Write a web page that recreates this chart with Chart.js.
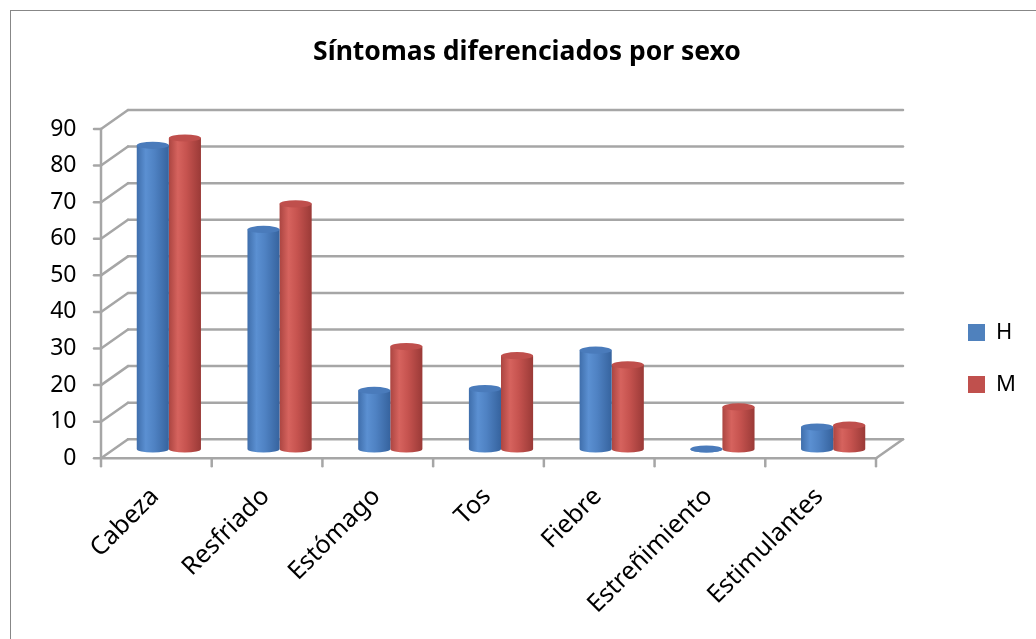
<!DOCTYPE html>
<html><head><meta charset="utf-8">
<script src="https://cdn.jsdelivr.net/npm/chart.js@4/dist/chart.umd.min.js"></script>
<style>html,body{margin:0;padding:0;background:#fff;overflow:hidden}#wrap{width:1036px;height:639px;position:relative}canvas{display:block}</style>
</head><body><div id="wrap"><canvas id="c" width="1036" height="639"></canvas></div>
<script>
// ---- data ----
const categories = ['Cabeza', 'Resfriado', 'Estómago', 'Tos', 'Fiebre', 'Estreñimiento', 'Estimulantes'];
const seriesNames = ['H', 'M'];
const valuesH = [83, 60, 16, 16.5, 27, 0, 6];
const valuesM = [85, 67, 28, 25.5, 23, 11.5, 6.5];
const yTickValues = [0, 10, 20, 30, 40, 50, 60, 70, 80, 90];
const chartTitle = 'Síntomas diferenciados por sexo';

// ---- styling / geometry ----
const BASE = ['#4F81BD', '#C0504D'];
const STOPS = [
  [[0, '#3f6eab'], [0.28, '#5b90d2'], [0.55, '#4f82c3'], [1, '#36639e']],
  [[0, '#ab4541'], [0.28, '#d6635e'], [0.55, '#c6534f'], [1, '#9a3a37']]
];
const TOPC = ['#4a7bbb', '#bf4f4c'];
const TARGET = { left: 113.5, right: 888.5, top: 119.7, bottom: 449 };
const FRONT = { dx: -12.5, dy: 9.3 };
const BACK = { dx: 14.5, dy: -9.7 };
const CAT_PCT = 0.58;
const GRID = '#a6a6a6';
const FONT = "'Noto Sans', sans-serif";
const TITLE_CENTER = 527;

let padL = 20, padR = 40, titlePadBottom = 50;

function cylFill(c) {
  const di = c.datasetIndex;
  if (c.type !== 'data') return BASE[di];
  const chart = c.chart, a = chart.chartArea, xs = chart.scales && chart.scales.x;
  if (!a || !xs) return BASE[di];
  const center = xs.getPixelForValue(c.dataIndex);
  const catW = (a.right - a.left) / categories.length;
  const bw = catW * CAT_PCT / 2;
  const left = center - catW * CAT_PCT / 2 + di * bw;
  const g = chart.ctx.createLinearGradient(left, 0, left + bw, 0);
  STOPS[di].forEach(s => g.addColorStop(s[0], s[1]));
  return g;
}

const framePlugin = {
  id: 'frame3d',
  beforeDraw(chart) {
    const ctx = chart.ctx;
    ctx.save();
    ctx.strokeStyle = '#878787';
    ctx.lineWidth = 1;
    ctx.strokeRect(10.5, 10.5, 1200, 800);
    ctx.restore();
  },
  beforeDatasetsDraw(chart) {
    const { ctx, chartArea: a, scales: { x, y } } = chart;
    const L = (x1, y1, x2, y2) => { ctx.beginPath(); ctx.moveTo(x1, y1); ctx.lineTo(x2, y2); ctx.stroke(); };
    ctx.save();
    ctx.strokeStyle = GRID;
    ctx.lineWidth = 2.5;
    ctx.lineCap = 'round';
    const y0 = y.getPixelForValue(0);
    const yMax = y.getPixelForValue(yTickValues[yTickValues.length - 1]);
    yTickValues.forEach(v => {
      const py = y.getPixelForValue(v);
      L(a.left + BACK.dx, py + BACK.dy, a.right + BACK.dx, py + BACK.dy);
      L(a.left + FRONT.dx, py + FRONT.dy, a.left + BACK.dx, py + BACK.dy);
      L(a.left + FRONT.dx - 7, py + FRONT.dy, a.left + FRONT.dx, py + FRONT.dy);
    });
    L(a.left + FRONT.dx, yMax + FRONT.dy, a.left + FRONT.dx, y0 + FRONT.dy);
    L(a.left + FRONT.dx, y0 + FRONT.dy, a.right + FRONT.dx, y0 + FRONT.dy);
    L(a.right + FRONT.dx, y0 + FRONT.dy, a.right + BACK.dx, y0 + BACK.dy);
    for (let i = 0; i <= categories.length; i++) {
      const px = x.getPixelForValue(i - 0.5) + FRONT.dx;
      L(px, y0 + FRONT.dy, px, y0 + FRONT.dy + 8);
    }
    ctx.restore();
  },
  afterDatasetsDraw(chart) {
    const ctx = chart.ctx;
    ctx.save();
    for (let di = chart.data.datasets.length - 1; di >= 0; di--) {
      const meta = chart.getDatasetMeta(di);
      meta.data.forEach(el => {
        const p = el.getProps(['x', 'y', 'base', 'width'], true);
        const rx = p.width / 2, ry = 3.6;
        const g = ctx.createLinearGradient(p.x - rx, 0, p.x + rx, 0);
        STOPS[di].forEach(s => g.addColorStop(s[0], s[1]));
        ctx.fillStyle = g;
        ctx.beginPath(); ctx.ellipse(p.x, p.base, rx, ry, 0, 0, Math.PI); ctx.fill();
        ctx.fillStyle = TOPC[di];
        ctx.beginPath(); ctx.ellipse(p.x, p.y, rx, ry, 0, 0, Math.PI * 2); ctx.fill();
      });
    }
    ctx.restore();
  },
  afterLayout(chart) {
    const lg = chart.legend;
    if (lg) {
      const w = lg.width, h = lg.height;
      lg.left = 938; lg.right = lg.left + w;
      lg.top = 291.5; lg.bottom = lg.top + h;
    }
    const tb = chart.titleBlock;
    if (tb) {
      const half = Math.min(TITLE_CENTER, 1036 - TITLE_CENTER);
      tb.left = TITLE_CENTER - half; tb.right = TITLE_CENTER + half;
    }
  }
};

const chart = new Chart(document.getElementById('c'), {
  type: 'bar',
  data: {
    labels: categories,
    datasets: [
      { label: seriesNames[0], data: valuesH, backgroundColor: cylFill, borderWidth: 0, categoryPercentage: CAT_PCT, barPercentage: 1 },
      { label: seriesNames[1], data: valuesM, backgroundColor: cylFill, borderWidth: 0, categoryPercentage: CAT_PCT, barPercentage: 1 }
    ]
  },
  options: {
    responsive: false,
    animation: false,
    devicePixelRatio: 1,
    layout: { padding: { left: padL, right: padR, top: 0, bottom: 0 } },
    plugins: {
      title: {
        display: true, text: chartTitle, color: '#000',
        font: { family: FONT, size: 26.5, weight: 'bold' },
        padding: { top: 37, bottom: titlePadBottom }
      },
      legend: {
        position: 'right', align: 'start',
        labels: {
          boxWidth: 17, boxHeight: 17, padding: 30, color: '#000', font: { family: FONT, size: 22 },
          generateLabels(ch) {
            const items = Chart.defaults.plugins.legend.labels.generateLabels(ch);
            items.forEach((it, i) => { it.fillStyle = BASE[i]; it.strokeStyle = BASE[i]; it.lineWidth = 0; });
            return items;
          }
        }
      },
      tooltip: { enabled: false }
    },
    scales: {
      x: {
        grid: { display: false, drawTicks: false },
        border: { display: false },
        ticks: { color: '#000', font: { family: FONT, size: 25 }, minRotation: 45, maxRotation: 45, autoSkip: false, labelOffset: -14, padding: 33 },
        afterFit(s) { s.height = 639 - TARGET.bottom; }
      },
      y: {
        min: 0, max: 90,
        grid: { display: false, drawTicks: false },
        border: { display: false },
        afterBuildTicks(s) { s.ticks = yTickValues.map(v => ({ value: v })); },
        ticks: { color: '#000', font: { family: FONT, size: 23 }, padding: 37, labelOffset: 9.3, autoSkip: false },
        afterFit(s) { s.width = TARGET.left - padL; }
      }
    }
  },
  plugins: [framePlugin]
});

// second pass: fit chart area to target geometry
(function fit() {
  for (let k = 0; k < 2; k++) {
    const ca = chart.chartArea;
    padR = padR + (ca.right - TARGET.right);
    titlePadBottom = titlePadBottom + (TARGET.top - ca.top);
    chart.options.layout.padding = { left: padL, right: padR, top: 0, bottom: 0 };
    chart.options.plugins.title.padding = { top: 37, bottom: titlePadBottom };
    chart.update('none');
  }
})();
</script>
</body></html>
